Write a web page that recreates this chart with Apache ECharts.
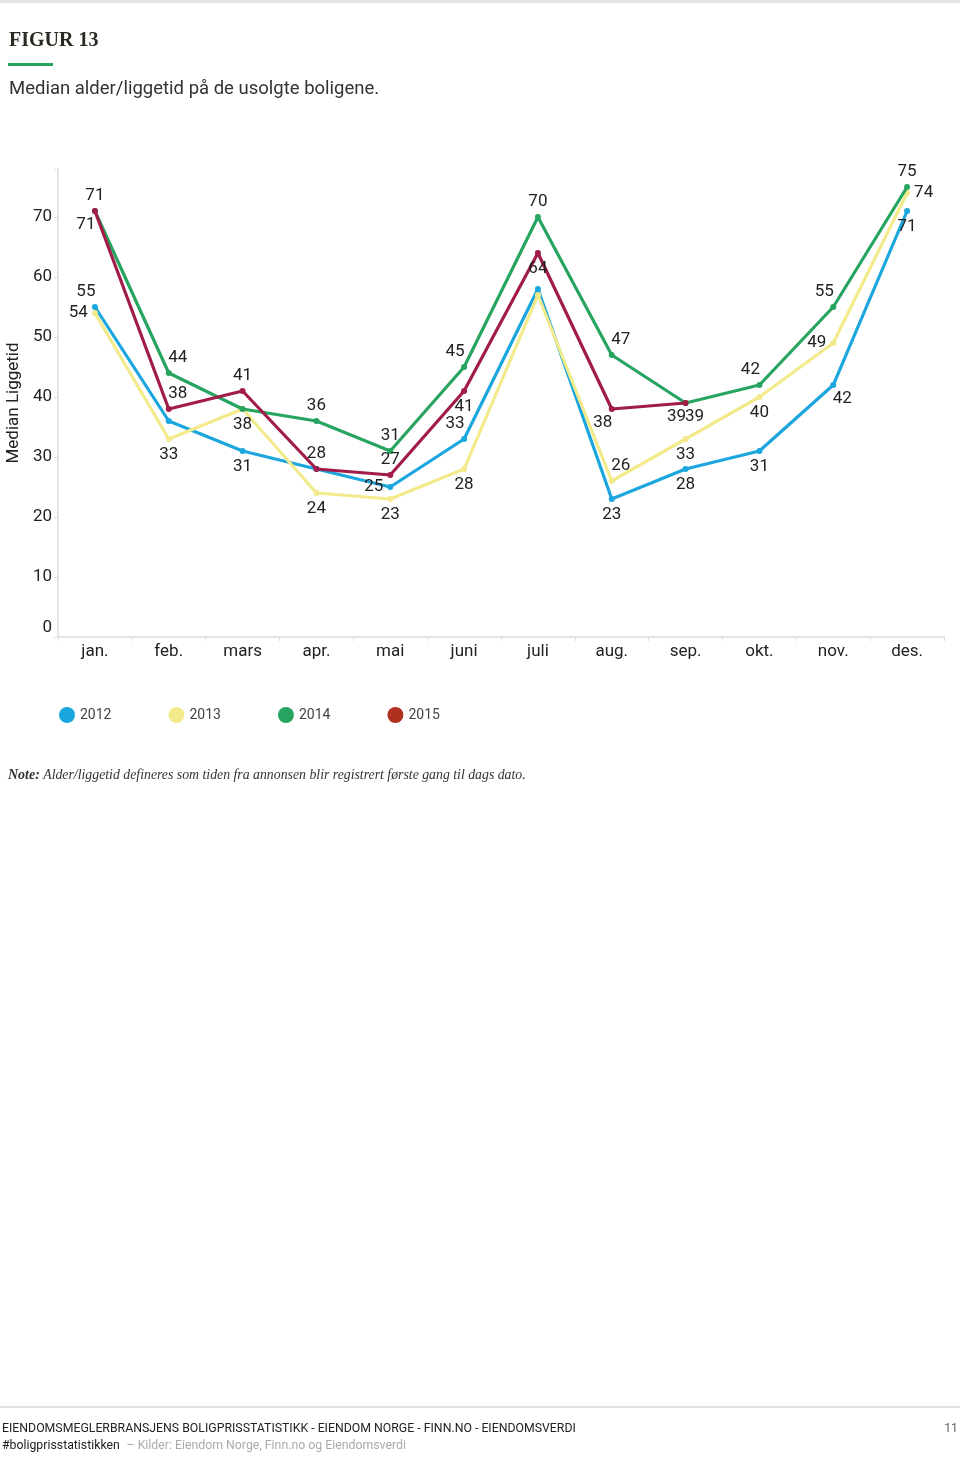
<!DOCTYPE html>
<html>
<head>
<meta charset="utf-8">
<script src="https://cdn.jsdelivr.net/npm/echarts@6/dist/echarts.min.js"></script>
<style>
html,body{margin:0;padding:0;background:#fff;}
#chart{width:960px;height:1458px;}
</style>
</head>
<body>
<div id="chart"></div>
<script>
const months = ['jan.','feb.','mars','apr.','mai','juni','juli','aug.','sep.','okt.','nov.','des.'];
const seriesNames = ['2012','2013','2014','2015'];
const s2012 = [55,36,31,28,25,33,58,23,28,31,42,71];
const s2013 = [54,33,38,24,23,28,57,26,33,40,49,74];
const s2014 = [71,44,38,36,31,45,70,47,39,42,55,75];
const s2015 = [71,38,41,28,27,41,64,38,39];
const yTicks = [0,10,20,30,40,50,60,70];

const colors = ['#1ba6dd','#f3ea8c','#27a45f','#a11c48'];
const legendColors = ['#1ba6dd','#f3ea8c','#27a45f','#b0301f'];

// label placement rules (style config, separate from data)
const labelRules = [
  {def:'bottom', over:{0:'topL',1:'hide',3:'hide',4:'left',5:'topL',6:'hide',10:'bottomR'}},
  {def:'bottom', over:{0:'left',6:'hide',7:'topR',10:'left',11:'right'}},
  {def:'top', over:{1:'topR',2:'hide',5:'topL',7:'topR',8:'bottomR',9:'topL',10:'topL'}},
  {def:'top', over:{0:'bottomL',1:'topR',5:'bottom',6:'bottom',7:'bottomL',8:'bottomL'}}
];
const allData = [s2012,s2013,s2014,s2015];

function buildData(vals, rule){
  return vals.map((v,i)=>{
    const p = rule.over[i] !== undefined ? rule.over[i] : rule.def;
    if (p === 'hide') return {value:v, label:{show:false}};
    if (p === 'bottomR') return {value:v, label:{position:'bottom', offset:[9,-2]}};
    if (p === 'bottomL') return {value:v, label:{position:'bottom', offset:[-9,-2]}};
    if (p === 'topR') return {value:v, label:{position:'top', offset:[9,0]}};
    if (p === 'topL') return {value:v, label:{position:'top', offset:[-9,0]}};
    return {value:v, label:{position:p}};
  });
}

const chart = echarts.init(document.getElementById('chart'));
const font = 'Roboto, "Noto Sans", sans-serif';

const series = seriesNames.map((n,k)=>({
  name:n,
  type:'line',
  data: buildData(allData[k], labelRules[k]),
  symbol:'circle',
  symbolSize:6,
  lineStyle:{width:3.2,color:colors[k]},
  itemStyle:{color:colors[k]},
  label:{show:true, fontSize:17, color:'#222', fontFamily:font, distance:4},
  z: 2+k
}));

chart.setOption({
  animation:false,
  textStyle:{fontFamily:font},
  grid:{left:58, right:16, top:169, bottom:821, containLabel:false, outerBoundsMode:'none'},
  xAxis:{
    type:'category',
    data:months,
    boundaryGap:true,
    axisLine:{show:true, lineStyle:{color:'#dcdcdc', width:1.5}},
    axisTick:{show:true, length:4, lineStyle:{color:'#dcdcdc'}},
    axisLabel:{fontSize:17, color:'#222', margin:6, fontFamily:font}
  },
  yAxis:{
    type:'value',
    min:0, max:78, interval:10,
    name:'Median Liggetid',
    nameLocation:'middle',
    nameRotate:90,
    nameGap:36,
    nameTextStyle:{fontSize:17, color:'#222', fontFamily:font},
    axisLine:{show:true, lineStyle:{color:'#dcdcdc', width:1.5}},
    axisTick:{show:true, length:4, lineStyle:{color:'#dcdcdc'}},
    splitLine:{show:false},
    axisLabel:{
      fontSize:17, color:'#222', margin:6, fontFamily:font,
      formatter:function(v){ if (yTicks.indexOf(v) < 0) return ''; return v === 0 ? '{z|0}' : String(v); },
      rich:{z:{fontSize:17, color:'#222', padding:[0,0,18,0], fontFamily:font}}
    }
  },
  legend:{
    left:54, top:702,
    icon:'circle',
    itemWidth:16, itemHeight:16,
    itemGap:57,
    textStyle:{fontSize:14, color:'#444', fontFamily:font},
    data: seriesNames.map((n,k)=>({name:n, itemStyle:{color:legendColors[k]}}))
  },
  series: series,
  graphic:[
    {type:'rect', shape:{x:0,y:0,width:960,height:3}, style:{fill:'#e2e2e2'}},
    {type:'text', left:9, top:31, style:{text:'FIGUR 13', font:'bold 20px "Liberation Serif", serif', fill:'#2b2a22'}},
    {type:'rect', shape:{x:8,y:63,width:45,height:3}, style:{fill:'#27a45f'}},
    {type:'text', left:9, top:80, style:{text:'Median alder/liggetid på de usolgte boligene.', font:'18.5px '+font, fill:'#333'}},
    {type:'text', left:8, top:768, style:{
      text:'{b|Note:} {i|Alder/liggetid defineres som tiden fra annonsen blir registrert første gang til dags dato.}',
      rich:{
        b:{font:'bold italic 14px "Liberation Serif", serif', fill:'#333'},
        i:{font:'italic 13.8px "Liberation Serif", serif', fill:'#333'}
      }
    }},
    {type:'rect', shape:{x:0,y:1406,width:960,height:2}, style:{fill:'#e2e2e2'}},
    {type:'text', left:2, top:1423, style:{text:'EIENDOMSMEGLERBRANSJENS BOLIGPRISSTATISTIKK - EIENDOM NORGE - FINN.NO - EIENDOMSVERDI', font:'12.3px '+font, fill:'#222'}},
    {type:'text', right:2, top:1423, style:{text:'11', font:'12.3px '+font, fill:'#666'}},
    {type:'text', left:2, top:1440, style:{
      text:'{a|#boligprisstatistikken}  {b|– Kilder: Eiendom Norge, Finn.no og Eiendomsverdi}',
      rich:{a:{font:'12.3px '+font, fill:'#222'}, b:{font:'12.3px '+font, fill:'#aaa'}}
    }}
  ]
});
</script>
</body>
</html>
